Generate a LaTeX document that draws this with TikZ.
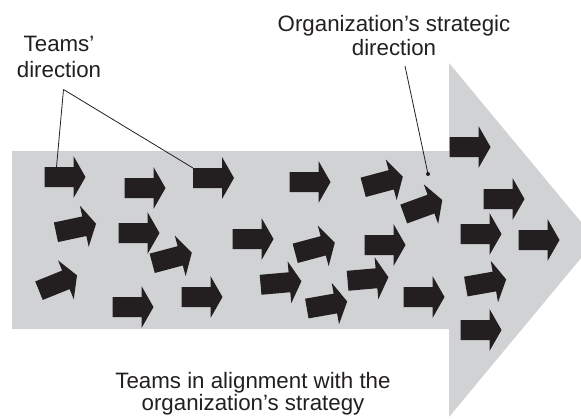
\documentclass[tikz,border=0pt]{standalone}
\usepackage{fontspec}
\setmainfont{Liberation Sans}
\definecolor{bandgray}{HTML}{D1D2D4}
\definecolor{ink}{HTML}{231F20}
\newcommand\teamarrow[4]{%
  \begin{scope}[shift={(#2,#3)},rotate=#4]
    \fill[teamarrowfill] (-20.5,-10) -- (8.5,-10) -- (8.5,-21) -- (20.5,0) -- (8.5,21) -- (8.5,10) -- (-20.5,10) -- cycle;
    \coordinate (#1) at (0,0);
    \coordinate (#1-tl) at (-20.5,-10);
    \coordinate (#1-t) at (-8.5,-10);
  \end{scope}}
\begin{document}
\begin{tikzpicture}[x=1pt,y=-1pt,
  teamarrowfill/.style={fill=ink},
  leader/.style={draw=ink,line width=0.8pt},
  lbl/.style={text=ink,align=center,inner sep=0pt}]
\useasboundingbox (0,0) rectangle (581,418);
\clip (0,0) rectangle (581,418);
\fill[bandgray] (12,151) -- (449,151) -- (449,63) -- (596,240) -- (449,417) -- (449,329) -- (12,329) -- cycle;
\teamarrow{a1}{65}{177}{0}
\teamarrow{a2}{145}{188}{0}
\teamarrow{a3}{213.5}{178}{0}
\teamarrow{a4}{76}{228}{12}
\teamarrow{a5}{139}{233}{0}
\teamarrow{a6}{172}{258}{15}
\teamarrow{a7}{58}{283}{22}
\teamarrow{a8}{133}{307}{0}
\teamarrow{a9}{202}{297}{0}
\teamarrow{b1}{310}{182}{0}
\teamarrow{b2}{383}{182}{15}
\teamarrow{b3}{423}{207}{20}
\teamarrow{b4}{253}{239}{0}
\teamarrow{b5}{315}{248}{15}
\teamarrow{b6}{385}{245}{0}
\teamarrow{b7}{281}{283}{5}
\teamarrow{b8}{368}{279}{5}
\teamarrow{b9}{327}{305}{10}
\teamarrow{b10}{424}{297}{0}
\teamarrow{c1}{470}{147}{0}
\teamarrow{c2}{504}{199}{0}
\teamarrow{c3}{481}{234}{0}
\teamarrow{c4}{539}{240}{0}
\teamarrow{c5}{486}{283}{10}
\teamarrow{c6}{481}{330}{0}
\node[lbl,anchor=base,font=\fontsize{22.3}{26}\selectfont] (teamslbl) at (59,77) {Teams’\\direction};
\node[lbl,anchor=base,font=\fontsize{22.3}{24}\selectfont] (orglbl) at (394,55) {Organization’s strategic\\direction};
\node[lbl,anchor=base,font=\fontsize{22.3}{22}\selectfont] (alignlbl) at (253,410) {Teams in alignment with the\\organization’s strategy};
\coordinate (apex) at (63.5,89.5);
\coordinate (orgtop) at (405,66);
\coordinate (orgdot) at (428,174);
\draw[leader] (apex) -- (a1-t);
\draw[leader] (apex) -- (a3-tl);
\draw[leader] (orgtop) -- (orgdot);
\fill[ink] (orgdot) circle (2);
\end{tikzpicture}
\end{document}
